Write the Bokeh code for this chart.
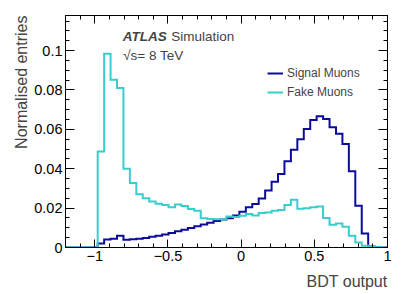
from bokeh.plotting import figure
from bokeh.models import Range1d, FixedTicker, LinearAxis, Title, Label, Legend, LegendItem
from bokeh.embed import file_html
from bokeh.resources import INLINE

# ---- data ----
bin_lo = -1.2
bin_hi = 1.0
n_bins = 50

signal = [0, 0, 0, 0, 0,
          0.0020, 0.0040, 0.0045, 0.0060, 0.0039,
          0.0042, 0.0045, 0.0048, 0.0054, 0.0060,
          0.0066, 0.0074, 0.0082, 0.0090, 0.0099,
          0.0108, 0.0117, 0.0126, 0.0134, 0.0142,
          0.0148, 0.0162, 0.0182, 0.0204, 0.0221,
          0.0249, 0.0289, 0.0334, 0.0373, 0.0438,
          0.0496, 0.0550, 0.0602, 0.0648, 0.0667,
          0.0653, 0.0611, 0.0577, 0.0526, 0.0387,
          0.0212, 0.0071, 0.0005, 0, 0]

fake = [0, 0, 0, 0, 0,
        0.0487, 0.0984, 0.0852, 0.0810, 0.0400,
        0.0328, 0.0270, 0.0250, 0.0234, 0.0222,
        0.0216, 0.0204, 0.0218, 0.0211, 0.0195,
        0.0187, 0.0149, 0.0145, 0.0144, 0.0143,
        0.0158, 0.0155, 0.0161, 0.0170, 0.0163,
        0.0175, 0.0178, 0.0187, 0.0190, 0.0216,
        0.0243, 0.0197, 0.0199, 0.0205, 0.0208,
        0.0150, 0.0116, 0.0122, 0.0105, 0.0060,
        0.0025, 0.0009, 0.0005, 0.0003, 0]

x_ticks = [-1, -0.5, 0, 0.5, 1]
x_tick_labels = ["−1", "−0.5", "0", "0.5", "1"]
x_minor = [round(-1.2 + 0.1 * i, 2) for i in range(23)]
y_ticks = [0, 0.02, 0.04, 0.06, 0.08, 0.1]
y_tick_labels = ["0", "0.02", "0.04", "0.06", "0.08", "0.1"]
y_minor = [round(0.005 * i, 3) for i in range(24)]

SIG_COLOR = "#0c0c9c"
FAKE_COLOR = "#38cece"
FONT = "Liberation Sans"

# ---- figure ----
p = figure(width=400, height=297, output_backend="svg", toolbar_location=None,
           x_range=Range1d(bin_lo, bin_hi), y_range=Range1d(0, 0.1178),
           x_axis_location=None, y_axis_location=None)
p.min_border_left = 65
p.min_border_top = 15
p.min_border_right = 13
p.min_border_bottom = 50
p.xgrid.visible = False
p.ygrid.visible = False
p.outline_line_color = "black"
p.outline_line_width = 1
p.background_fill_color = "white"
p.border_fill_color = "white"


def style(ax, tick_len, show_labels, ticks, labels):
    ax.axis_line_color = "black"
    ax.major_tick_line_color = "black"
    ax.minor_tick_line_color = "black"
    ax.major_tick_in = tick_len
    ax.major_tick_out = 0
    ax.minor_tick_in = tick_len // 2
    ax.minor_tick_out = 0
    ax.major_label_text_font = FONT
    ax.major_label_text_color = "black"
    if show_labels:
        ax.major_label_overrides = {t: l for t, l in zip(ticks, labels)}
        ax.major_label_text_font_size = "14.5px"
        ax.major_label_standoff = 3
    else:
        ax.major_label_overrides = {t: "" for t in ticks}
        ax.major_label_text_font_size = "1px"
        ax.major_label_standoff = 0


for loc, show in (("below", True), ("above", False)):
    ax = LinearAxis(ticker=FixedTicker(ticks=x_ticks, minor_ticks=x_minor))
    style(ax, 8, show, x_ticks, x_tick_labels)
    p.add_layout(ax, loc)
for loc, show in (("left", True), ("right", False)):
    ax = LinearAxis(ticker=FixedTicker(ticks=y_ticks, minor_ticks=y_minor))
    style(ax, 9, show, y_ticks, y_tick_labels)
    p.add_layout(ax, loc)

p.add_layout(Title(text="BDT output", align="right", text_font=FONT,
                   text_font_size="16px", text_font_style="normal",
                   standoff=14), "below")
p.add_layout(Title(text="Normalised entries", align="right", text_font=FONT,
                   text_font_size="16px", text_font_style="normal",
                   standoff=3), "left")

# ---- histograms ----
w = (bin_hi - bin_lo) / n_bins
edges = [bin_lo + i * w for i in range(n_bins + 1)]


def steps(vals):
    xs, ys = [edges[0]], [0.0]
    for i, v in enumerate(vals):
        xs += [edges[i], edges[i + 1]]
        ys += [v, v]
    xs.append(edges[-1])
    ys.append(0.0)
    return xs, ys


sx, sy = steps(signal)
fx, fy = steps(fake)
r_sig = p.line(sx, sy, line_color=SIG_COLOR, line_width=2, line_join="miter")
r_fake = p.line(fx, fy, line_color=FAKE_COLOR, line_width=2, line_join="miter")

legend = Legend(items=[LegendItem(label="Signal Muons", renderers=[r_sig]),
                       LegendItem(label="Fake Muons", renderers=[r_fake])],
                location=(202, 148), orientation="vertical",
                label_text_font=FONT, label_text_font_size="12px",
                glyph_width=16, glyph_height=14, label_height=14,
                label_standoff=4, spacing=5, padding=0, margin=0,
                border_line_color=None, background_fill_alpha=0)
p.add_layout(legend, "center")

# ---- ATLAS labels ----
p.add_layout(Label(x=-0.8085, y=0.1073, text="ATLAS", text_font=FONT,
                   text_font_size="13.5px", text_font_style="bold italic",
                   text_baseline="alphabetic"))
p.add_layout(Label(x=-0.478, y=0.1073, text="Simulation", text_font=FONT,
                   text_font_size="13.5px", text_baseline="alphabetic"))
p.add_layout(Label(x=-0.806, y=0.0973, text="√s= 8 TeV", text_font=FONT,
                   text_font_size="13.5px", text_baseline="alphabetic"))

open("out.html", "w").write(file_html(p, INLINE))
